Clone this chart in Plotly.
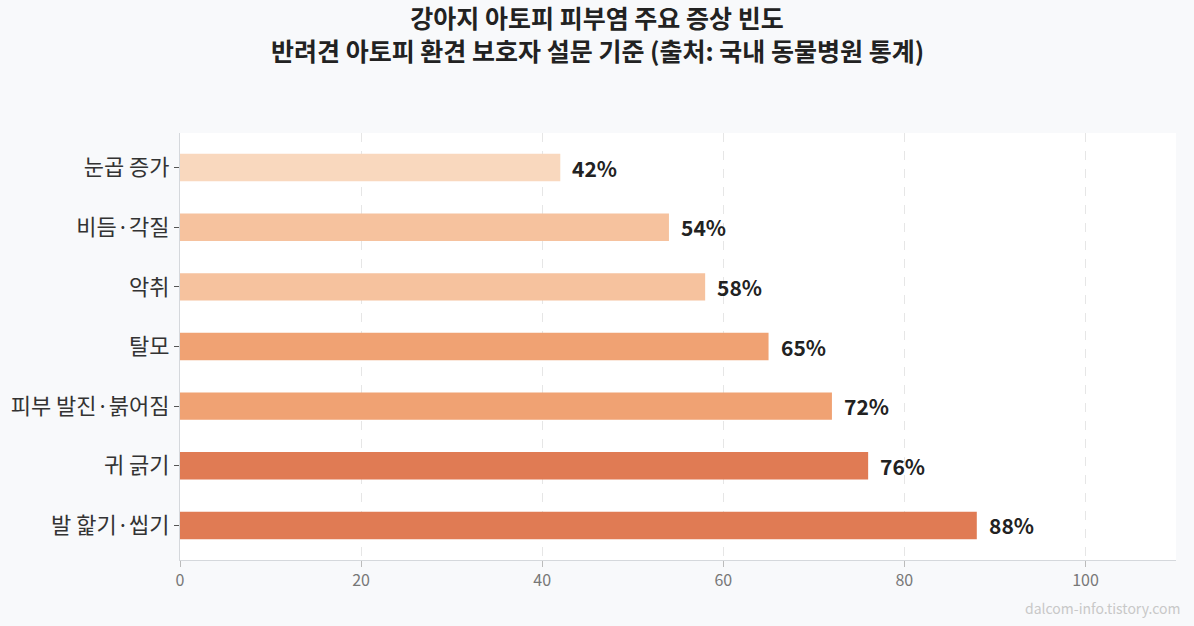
import plotly.graph_objects as go

# 증상 목록 (아래에서 위로 그려짐)
symptoms = ["발 핥기·씹기", "귀 긁기", "피부 발진·붉어짐", "탈모", "악취", "비듬·각질", "눈곱 증가"]
values = [88, 76, 72, 65, 58, 54, 42]
colors = ["#E07B54", "#E07B54", "#F0A273", "#F0A273", "#F6C29E", "#F6C29E", "#F9D8BE"]

x_ticks = [0, 20, 40, 60, 80, 100]

title_main = "강아지 아토피 피부염 주요 증상 빈도"
title_sub = "반려견 아토피 환견 보호자 설문 기준 (출처: 국내 동물병원 통계)"

FONT = "Noto Sans CJK KR"

fig = go.Figure()

fig.add_trace(go.Bar(
    x=values,
    y=symptoms,
    orientation="h",
    width=0.46,
    marker=dict(color=colors, line=dict(width=0)),
    hoverinfo="skip",
))

for s, v in zip(symptoms, values):
    fig.add_annotation(
        x=v, y=s,
        text=f"{v}%",
        showarrow=False,
        xanchor="left",
        xshift=10,
        font=dict(family=FONT, size=21, color="#222222", weight="bold"),
    )

# 제목 두번째 줄 (페이지 가운데 정렬)
fig.add_annotation(
    text=title_sub,
    xref="paper", yref="paper",
    x=(597 - 180) / 996, y=1.1944,
    xanchor="center", yanchor="middle",
    showarrow=False,
    font=dict(family=FONT, size=25, color="#222222", weight="bold"),
)

fig.add_annotation(
    text="dalcom-info.tistory.com",
    xref="paper", yref="paper",
    x=1.006, y=-0.085,
    xanchor="right", yanchor="top",
    showarrow=False,
    font=dict(family=FONT, size=14, color="#C8C8C8"),
)

fig.update_layout(
    width=1194,
    height=626,
    title=dict(
        text=title_main,
        x=0.5,
        xanchor="center",
        y=1 - 19 / 626,
        yanchor="middle",
        font=dict(family=FONT, size=25, color="#222222", weight="bold"),
    ),
    paper_bgcolor="#F8F9FB",
    plot_bgcolor="#FFFFFF",
    margin=dict(l=180, r=18, t=133, b=66),
    showlegend=False,
    font=dict(family=FONT),
    xaxis=dict(
        range=[0, 110],
        tickvals=x_ticks,
        showgrid=True,
        gridcolor="#E6E6E6",
        griddash="dash",
        gridwidth=1,
        zeroline=False,
        showline=True,
        linecolor="#D5D8DC",
        ticks="outside",
        ticklen=6,
        tickcolor="#BBBBBB",
        tickfont=dict(family=FONT, size=16, color="#777777"),
    ),
    yaxis=dict(
        range=[-0.58, 6.58],
        showgrid=False,
        showline=True,
        linecolor="#D5D8DC",
        ticks="outside",
        ticklen=5,
        tickcolor="#555555",
        tickfont=dict(family=FONT, size=22, color="#333333"),
    ),
)

fig.write_html("out.html", config={"displayModeBar": False},
               post_script="document.body.style.margin='0';")
